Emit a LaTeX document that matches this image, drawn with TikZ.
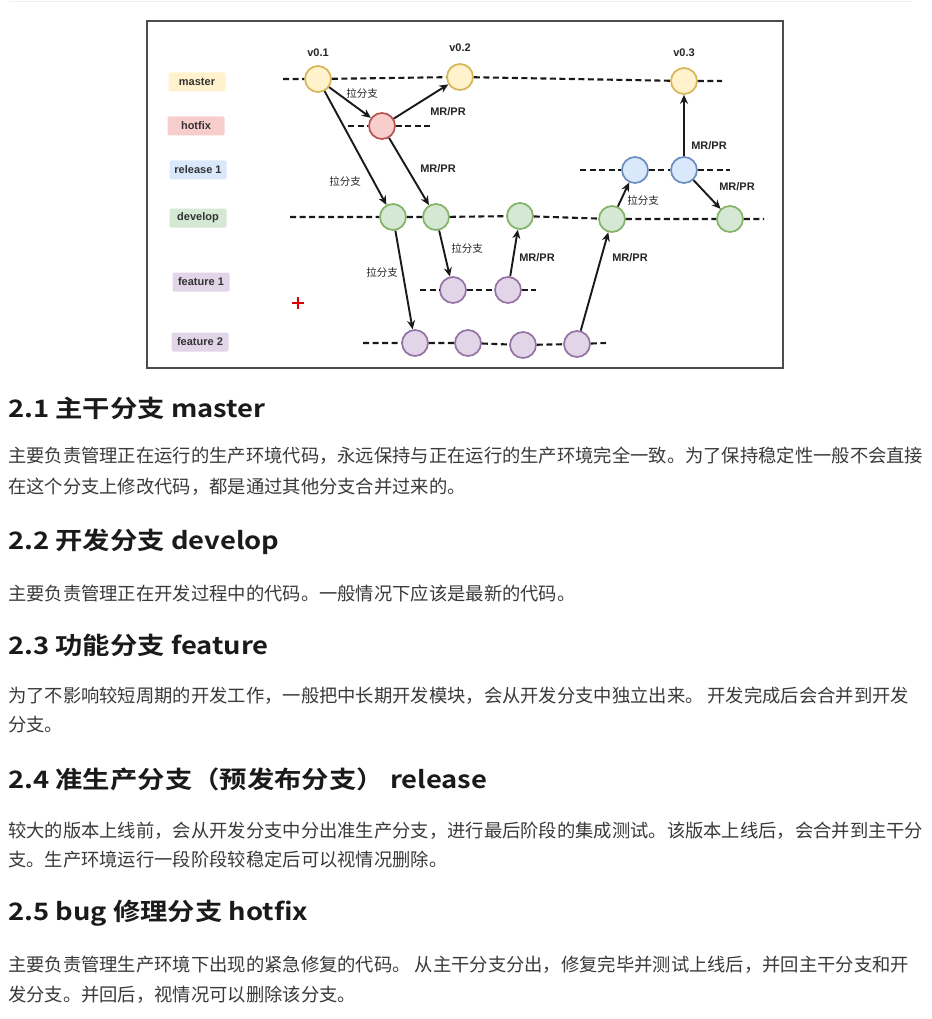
\documentclass[tikz,border=0pt]{standalone}
\usepackage{fontspec}
\setmainfont{Liberation Sans}
\newfontfamily\cjk[BoldFont={Noto Sans CJK SC Bold}]{Noto Sans CJK SC}
\usetikzlibrary{arrows.meta}
\definecolor{yfill}{HTML}{FFF2CC}\definecolor{ydraw}{HTML}{D6B656}
\definecolor{rfill}{HTML}{F8CECC}\definecolor{rdraw}{HTML}{B85450}
\definecolor{bfill}{HTML}{DAE8FC}\definecolor{bdraw}{HTML}{6C8EBF}
\definecolor{gfill}{HTML}{D5E8D4}\definecolor{gdraw}{HTML}{82B366}
\definecolor{pfill}{HTML}{E1D5E7}\definecolor{pdraw}{HTML}{9673A6}
\definecolor{headc}{HTML}{1A1A1A}\definecolor{bodyc}{HTML}{3A3A3A}
\newcommand{\hwide}[1]{\scalebox{1.14}[1]{#1}}
\tikzset{
  lbl/.style={font=\fontsize{11}{13}\selectfont\bfseries, text=black!80, rounded corners=2pt,
    minimum width=57pt, minimum height=19pt, inner sep=0pt},
  commit/.style={circle, draw, line width=1.7pt, minimum size=26pt, inner sep=0pt},
  ycommit/.style={commit, fill=yfill, draw=ydraw},
  rcommit/.style={commit, fill=rfill, draw=rdraw},
  bcommit/.style={commit, fill=bfill, draw=bdraw},
  gcommit/.style={commit, fill=gfill, draw=gdraw},
  pcommit/.style={commit, fill=pfill, draw=pdraw},
  branchline/.style={line width=2.1pt, dash pattern=on 6pt off 3.5pt, black!90},
  arr/.style={-{Stealth[length=9pt,width=8pt]}, line width=1.9pt, black!90},
  note/.style={font=\fontsize{11}{13}\selectfont\bfseries, text=black!85, inner sep=1pt},
  cnote/.style={font=\cjk\fontsize{10.5}{12}\selectfont, text=black!85, inner sep=1pt},
  ver/.style={font=\fontsize{11}{13}\selectfont\bfseries, text=black!85, inner sep=1pt},
  head/.style={font=\cjk\bfseries\fontsize{24}{28}\selectfont, text=headc, anchor=west, inner sep=0pt},
  body/.style={font=\cjk\fontsize{18.3}{22}\selectfont, text=bodyc, anchor=west, inner sep=0pt},
}
\begin{document}
\begin{tikzpicture}[x=1pt,y=-1pt]
\useasboundingbox (0,0) rectangle (931,1019);
\fill[white] (0,0) rectangle (931,1019);
\draw[black!6, line width=1pt] (9,2) -- (912,2);
% frame
\draw[black!70, line width=1.5pt] (147,21) rectangle (783,368);

% branch labels
\node[lbl, fill=yfill] (Lmaster) at (197,82) {master};
\node[lbl, fill=rfill] (Lhotfix) at (196,126) {hotfix};
\node[lbl, fill=bfill] (Lrelease) at (198,170) {release 1};
\node[lbl, fill=gfill] (Ldevelop) at (198,218) {develop};
\node[lbl, fill=pfill] (Lfeat1) at (201,282) {feature 1};
\node[lbl, fill=pfill] (Lfeat2) at (200,342) {feature 2};

% red plus
\draw[red!85!black, line width=1.8pt] (292,303) -- (304,303) (298,297) -- (298,309);

% commits
\node[ycommit] (m1) at (318,79) {};
\node[ycommit] (m2) at (460,77) {};
\node[ycommit] (m3) at (684,81) {};
\node[rcommit] (h1) at (382,126) {};
\node[bcommit] (r1) at (635,170) {};
\node[bcommit] (r2) at (684,170) {};
\node[gcommit] (d1) at (393,217) {};
\node[gcommit] (d2) at (436,217) {};
\node[gcommit] (d3) at (520,216) {};
\node[gcommit] (d4) at (612,219) {};
\node[gcommit] (d5) at (730,219) {};
\node[pcommit] (fa1) at (453,290) {};
\node[pcommit] (fa2) at (508,290) {};
\node[pcommit] (fb1) at (415,343) {};
\node[pcommit] (fb2) at (468,343) {};
\node[pcommit] (fb3) at (523,345) {};
\node[pcommit] (fb4) at (577,344) {};

% line ends
\coordinate (mL) at (283,79); \coordinate (mR) at (722,81);
\coordinate (hL) at (348,126); \coordinate (hR) at (432,126);
\coordinate (rL) at (580,170); \coordinate (rR) at (730,170);
\coordinate (dL) at (290,217); \coordinate (dR) at (764,219);
\coordinate (faL) at (420,290); \coordinate (faR) at (536,290);
\coordinate (fbL) at (363,343); \coordinate (fbR) at (606,343);

% branch lines
\draw[branchline] (mL) -- (m1) (m1) -- (m2) (m2) -- (m3) (m3) -- (mR);
\draw[branchline] (hL) -- (h1) (h1) -- (hR);
\draw[branchline] (rL) -- (r1) (r1) -- (r2) (r2) -- (rR);
\draw[branchline] (dL) -- (d1) (d1) -- (d2) (d2) -- (d3) (d3) -- (d4) (d4) -- (d5) (d5) -- (dR);
\draw[branchline] (faL) -- (fa1) (fa1) -- (fa2) (fa2) -- (faR);
\draw[branchline] (fbL) -- (fb1) (fb1) -- (fb2) (fb2) -- (fb3) (fb3) -- (fb4) (fb4) -- (fbR);

% versions
\node[ver] (v1) at (318,53) {v0.1};
\node[ver] (v2) at (460,48) {v0.2};
\node[ver] (v3) at (684,53) {v0.3};

% arrows
\draw[arr] (m1) -- (h1);
\draw[arr] (h1) -- (m2);
\draw[arr] (m1) -- (d1);
\draw[arr] (h1) -- (d2);
\draw[arr] (d1) -- (fb1);
\draw[arr] (d2) -- (fa1);
\draw[arr] (fa2) -- (d3);
\draw[arr] (fb4) -- (d4);
\draw[arr] (d4) -- (r1);
\draw[arr] (r2) -- (m3);
\draw[arr] (r2) -- (d5);

% arrow labels
\node[cnote] (n1) at (362,93) {拉分支};
\node[note] (n2) at (448,112) {MR/PR};
\node[cnote] (n3) at (345,181) {拉分支};
\node[note] (n4) at (438,169) {MR/PR};
\node[cnote] (n5) at (382,272) {拉分支};
\node[cnote] (n6) at (467,248) {拉分支};
\node[note] (n7) at (537,258) {MR/PR};
\node[note] (n8) at (630,258) {MR/PR};
\node[cnote] (n9) at (643,200) {拉分支};
\node[note] (n10) at (709,146) {MR/PR};
\node[note] (n11) at (737,187) {MR/PR};

% text below
\node[head] (h21) at (8,408) {\hwide{2.1 主干分支 master}};
\node[body] (b21a) at (8,456) {主要负责管理正在运行的生产环境代码，永远保持与正在运行的生产环境完全一致。为了保持稳定性一般不会直接};
\node[body] (b21b) at (8,487) {在这个分支上修改代码，都是通过其他分支合并过来的。};
\node[head] (h22) at (8,542) {\hwide{2.2 开发分支 develop}};
\node[body] (b22a) at (8,594) {主要负责管理正在开发过程中的代码。一般情况下应该是最新的代码。};
\node[head] (h23) at (8,645) {\hwide{2.3 功能分支 feature}};
\node[body] (b23a) at (8,696) {为了不影响较短周期的开发工作，一般把中长期开发模块，会从开发分支中独立出来。 开发完成后会合并到开发};
\node[body] (b23b) at (8,725) {分支。};
\node[head] (h24) at (8,779) {\hwide{2.4 准生产分支（预发布分支） release}};
\node[body] (b24a) at (8,831) {较大的版本上线前，会从开发分支中分出准生产分支，进行最后阶段的集成测试。该版本上线后，会合并到主干分};
\node[body] (b24b) at (8,860) {支。生产环境运行一段阶段较稳定后可以视情况删除。};
\node[head] (h25) at (8,913) {\hwide{2.5 bug 修理分支 hotfix}};
\node[body] (b25a) at (8,965) {主要负责管理生产环境下出现的紧急修复的代码。 从主干分支分出，修复完毕并测试上线后，并回主干分支和开};
\node[body] (b25b) at (8,995) {发分支。并回后，视情况可以删除该分支。};
\end{tikzpicture}
\end{document}
